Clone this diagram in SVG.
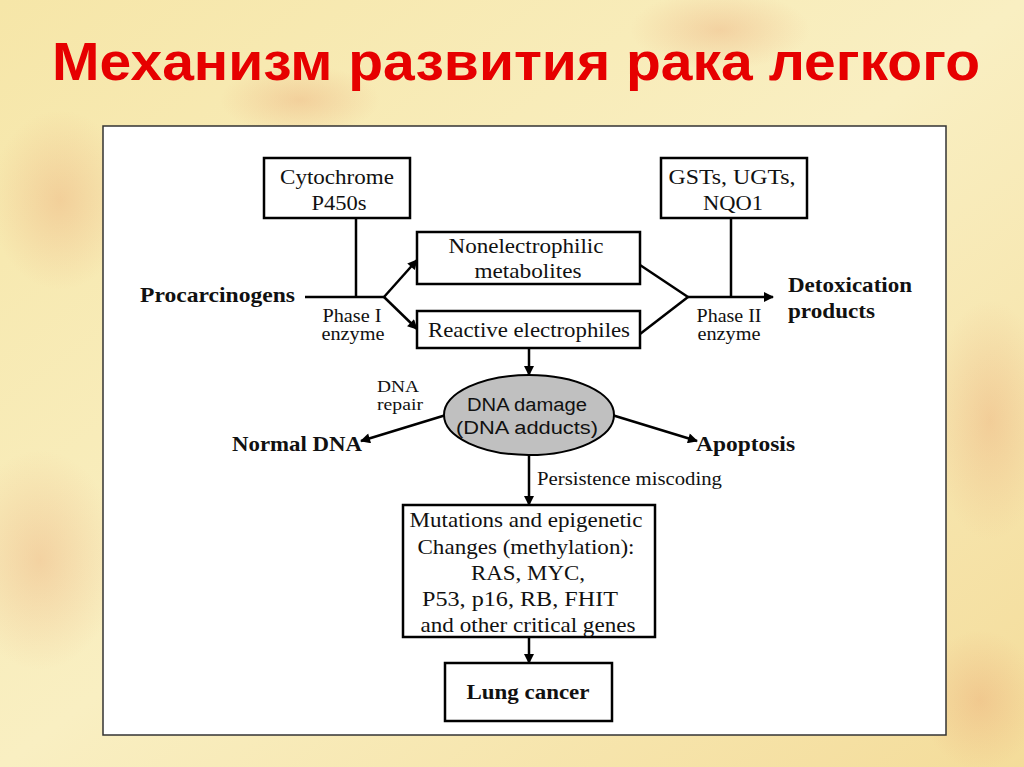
<svg xmlns="http://www.w3.org/2000/svg" width="1024" height="767" viewBox="0 0 1024 767">
<defs>
<linearGradient id="bg" x1="0" y1="0" x2="1" y2="1">
<stop offset="0" stop-color="#f6e6a8"/>
<stop offset="0.5" stop-color="#f9efc2"/>
<stop offset="1" stop-color="#f4dc9a"/>
</linearGradient>
<radialGradient id="blot" cx="0.5" cy="0.5" r="0.5">
<stop offset="0" stop-color="#e9a070" stop-opacity="0.35"/>
<stop offset="1" stop-color="#e9a070" stop-opacity="0"/>
</radialGradient>
<marker id="ah" viewBox="0 0 10 10" refX="9" refY="5" markerWidth="4.5" markerHeight="4" orient="auto" markerUnits="strokeWidth">
<path d="M0,0 L10,5 L0,10 Z" fill="#000"/>
</marker>
<style>
.box{fill:#fff;stroke:#000;stroke-width:2.5}
.ln{fill:none;stroke:#000;stroke-width:2.5}
.arr{fill:none;stroke:#000;stroke-width:2.5;marker-end:url(#ah)}
.t{font-family:"Liberation Serif","Times New Roman",serif;font-size:22px;fill:#111;text-anchor:middle}
.s{font-family:"Liberation Serif","Times New Roman",serif;font-size:18px;fill:#111;text-anchor:middle}
.r{font-family:"Liberation Serif","Times New Roman",serif;font-size:16px;fill:#111;text-anchor:middle}
.b{font-family:"Liberation Serif","Times New Roman",serif;font-size:22px;font-weight:bold;fill:#111}
.a{font-family:"Liberation Sans",Arial,sans-serif;font-size:18px;fill:#111;text-anchor:middle}
</style>
</defs>
<rect width="1024" height="767" fill="url(#bg)"/>
<g id="background-blots">
<ellipse cx="60" cy="200" rx="70" ry="90" fill="url(#blot)"/>
<ellipse cx="40" cy="560" rx="80" ry="110" fill="url(#blot)"/>
<ellipse cx="990" cy="420" rx="60" ry="120" fill="url(#blot)"/>
<ellipse cx="720" cy="30" rx="90" ry="40" fill="url(#blot)"/>
<ellipse cx="300" cy="100" rx="80" ry="35" fill="url(#blot)"/>
<ellipse cx="980" cy="700" rx="60" ry="70" fill="url(#blot)"/>
</g>
<text id="title" x="516" y="80" text-anchor="middle" font-family="'Liberation Sans',Arial,sans-serif" font-size="54" font-weight="bold" fill="#e60000" textLength="928" lengthAdjust="spacingAndGlyphs">Механизм развития рака легкого</text>
<rect id="panel" x="103" y="126" width="843" height="609" fill="#fff" stroke="#333" stroke-width="1.5"/>

<g id="connectors">
<line class="ln" x1="356" y1="218" x2="356" y2="297"/>
<line class="ln" x1="305" y1="297" x2="384" y2="297"/>
<line class="arr" x1="384" y1="297" x2="417" y2="260"/>
<line class="arr" x1="384" y1="297" x2="417" y2="329"/>
<line class="ln" x1="640" y1="265" x2="688" y2="297"/>
<line class="ln" x1="640" y1="334" x2="688" y2="297"/>
<line class="arr" x1="688" y1="297" x2="773" y2="297"/>
<line class="ln" x1="731" y1="218" x2="731" y2="297"/>
<line class="arr" x1="529" y1="348" x2="529" y2="375"/>
<line class="arr" x1="446" y1="415" x2="361" y2="441"/>
<line class="arr" x1="612" y1="415" x2="697" y2="441"/>
<line class="arr" x1="529" y1="455" x2="529" y2="505"/>
<line class="arr" x1="529" y1="637" x2="529" y2="663"/>
</g>

<g id="cytochrome">
<rect class="box" x="264" y="158" width="146" height="60"/>
<text class="t" x="337" y="184" textLength="114" lengthAdjust="spacingAndGlyphs">Cytochrome</text>
<text class="t" x="339" y="210" textLength="55" lengthAdjust="spacingAndGlyphs">P450s</text>
</g>
<g id="gsts">
<rect class="box" x="661" y="158" width="146" height="60"/>
<text class="t" x="732" y="184" textLength="127" lengthAdjust="spacingAndGlyphs">GSTs, UGTs,</text>
<text class="t" x="733" y="210" textLength="60" lengthAdjust="spacingAndGlyphs">NQO1</text>
</g>
<g id="procarcinogens">
<text class="b" x="140" y="302" textLength="155" lengthAdjust="spacingAndGlyphs">Procarcinogens</text>
</g>
<g id="phase1">
<text class="s" x="352" y="322" textLength="59" lengthAdjust="spacingAndGlyphs">Phase I</text>
<text class="s" x="353" y="340" textLength="63" lengthAdjust="spacingAndGlyphs">enzyme</text>
</g>
<g id="nonelectrophilic">
<rect class="box" x="417" y="232" width="223" height="52"/>
<text class="t" x="526" y="253" textLength="155" lengthAdjust="spacingAndGlyphs">Nonelectrophilic</text>
<text class="t" x="528" y="278" textLength="107" lengthAdjust="spacingAndGlyphs">metabolites</text>
</g>
<g id="reactive">
<rect class="box" x="417" y="311" width="223" height="37"/>
<text class="t" x="529" y="337" textLength="202" lengthAdjust="spacingAndGlyphs">Reactive electrophiles</text>
</g>
<g id="phase2">
<text class="s" x="729" y="322" textLength="65" lengthAdjust="spacingAndGlyphs">Phase II</text>
<text class="s" x="729" y="340" textLength="63" lengthAdjust="spacingAndGlyphs">enzyme</text>
</g>
<g id="detoxication">
<text class="b" x="788" y="292" textLength="124" lengthAdjust="spacingAndGlyphs">Detoxication</text>
<text class="b" x="788" y="318" textLength="87" lengthAdjust="spacingAndGlyphs">products</text>
</g>
<g id="dna-damage">
<ellipse cx="529" cy="415" rx="85" ry="40" fill="#c0c0c0" stroke="#000" stroke-width="2"/>
<text class="a" x="527" y="411" textLength="120" lengthAdjust="spacingAndGlyphs">DNA damage</text>
<text class="a" x="527" y="434" textLength="142" lengthAdjust="spacingAndGlyphs">(DNA adducts)</text>
</g>
<g id="dna-repair">
<text class="r" x="398" y="392" textLength="42" lengthAdjust="spacingAndGlyphs">DNA</text>
<text class="r" x="400" y="410" textLength="46" lengthAdjust="spacingAndGlyphs">repair</text>
</g>
<g id="normal-dna">
<text class="b" x="232" y="451" textLength="130" lengthAdjust="spacingAndGlyphs">Normal DNA</text>
</g>
<g id="apoptosis">
<text class="b" x="696" y="451" textLength="99" lengthAdjust="spacingAndGlyphs">Apoptosis</text>
</g>
<g id="persistence">
<text class="s" x="537" y="485" style="text-anchor:start" textLength="185" lengthAdjust="spacingAndGlyphs">Persistence miscoding</text>
</g>
<g id="mutations">
<rect class="box" x="403" y="505" width="252" height="132"/>
<text class="t" x="526" y="527" textLength="233" lengthAdjust="spacingAndGlyphs">Mutations and epigenetic</text>
<text class="t" x="526" y="554" textLength="217" lengthAdjust="spacingAndGlyphs">Changes (methylation):</text>
<text class="t" x="528" y="580" textLength="114" lengthAdjust="spacingAndGlyphs">RAS, MYC,</text>
<text class="t" x="520" y="606" textLength="196" lengthAdjust="spacingAndGlyphs">P53, p16, RB, FHIT</text>
<text class="t" x="528" y="632" textLength="215" lengthAdjust="spacingAndGlyphs">and other critical genes</text>
</g>
<g id="lung-cancer">
<rect class="box" x="445" y="663" width="167" height="58"/>
<text class="b" x="528" y="699" style="text-anchor:middle" textLength="123" lengthAdjust="spacingAndGlyphs">Lung cancer</text>
</g>
</svg>
